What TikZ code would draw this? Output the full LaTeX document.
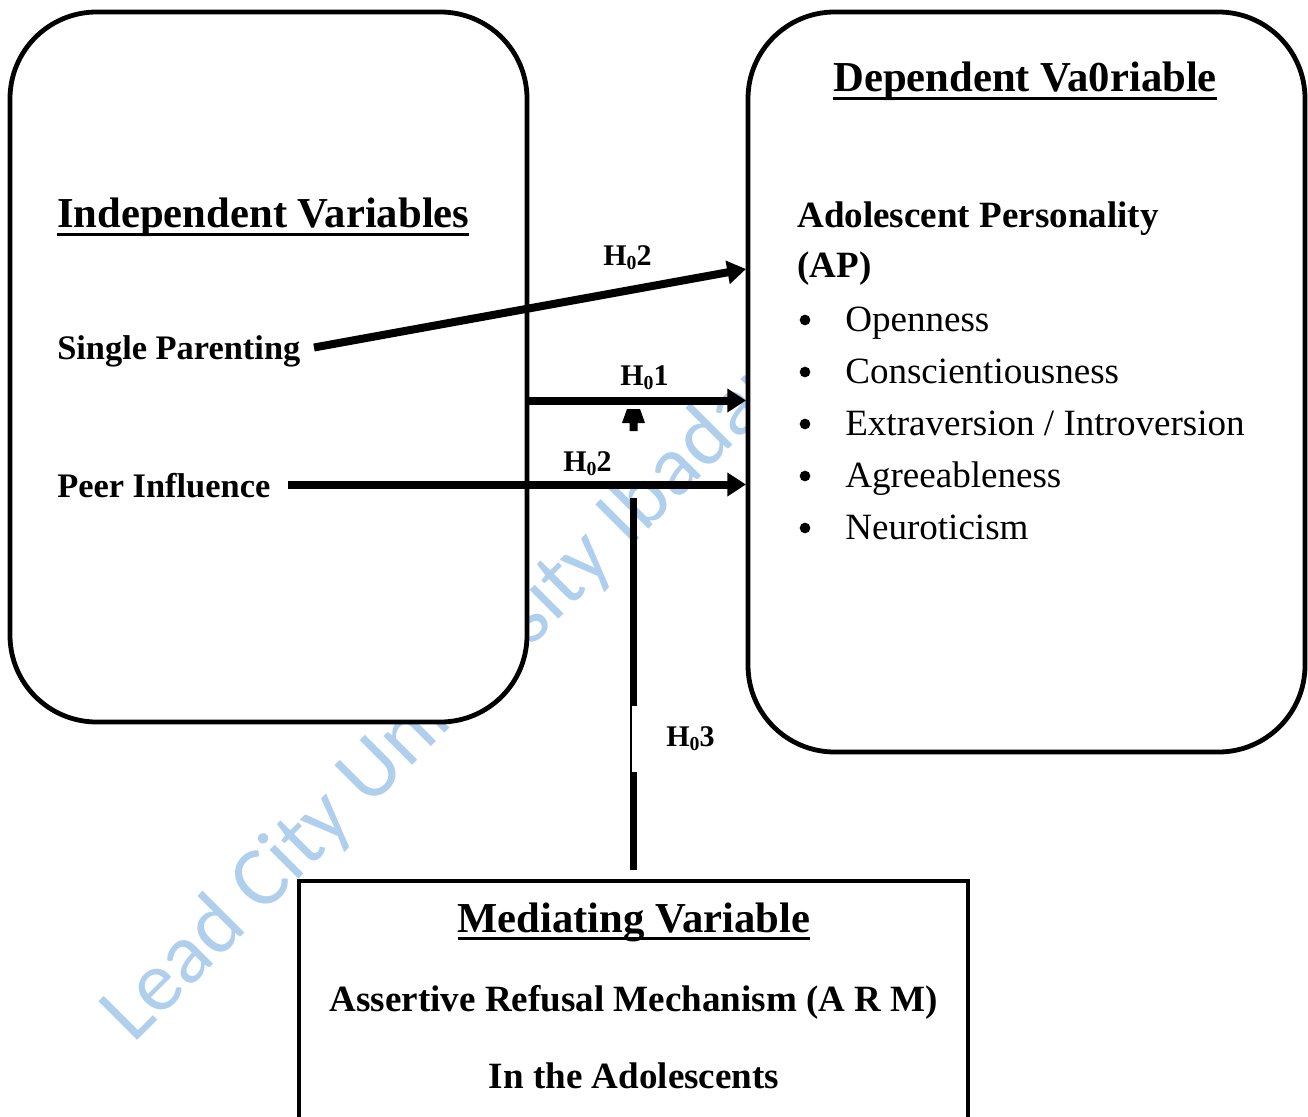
\documentclass[tikz,border=0pt]{standalone}
\usepackage{fontspec}
\usepackage{graphicx}
\setmainfont{Liberation Serif}
\newfontfamily\wmfont{Carlito}
\usetikzlibrary{arrows.meta}
\definecolor{wmblue}{RGB}{175,207,237}
\newcommand\myul[1]{\leavevmode\setbox0=\hbox{#1}\rlap{\smash{\rule[-6pt]{\wd0}{2.2pt}}}\box0}
\newcommand\hsub[1]{H\raisebox{-0.14em}{\scalebox{0.66}{0}}#1}
\tikzset{
 box/.style={draw, line width=3.6pt, fill=white, rounded corners=65pt, inner sep=0},
 sqbox/.style={draw, line width=3.6pt, fill=white, inner sep=0},
 head/.style={font=\bfseries\fontsize{32}{38}\selectfont, inner sep=0, anchor=base west},
 lab/.style={font=\bfseries\fontsize{25.8}{30}\selectfont, inner sep=0, anchor=base west},
 itm/.style={font=\fontsize{27.8}{33}\selectfont, inner sep=0, anchor=base west},
 bitm/.style={font=\bfseries\fontsize{27.8}{33}\selectfont, inner sep=0, anchor=base west},
 hlab/.style={font=\bfseries\fontsize{22.5}{27}\selectfont, inner sep=0, anchor=base west},
 arr/.style={line width=6pt, -{Triangle[length=14pt,width=17pt]}},
 vline/.style={line width=5.5pt},
 thinline/.style={line width=1.1pt},
 bul/.style={circle, fill=black, inner sep=0, minimum size=8pt},
 wm/.style={rotate=45, anchor=base west, text=wmblue, inner sep=0, font=\wmfont\fontsize{64}{70}\selectfont},
}
\begin{document}
\begin{tikzpicture}[x=0.75pt,y=-0.75pt]
\useasboundingbox (0,0) rectangle (1308,1116);
\clip (0,0) rectangle (1308,1116);
% watermark
\node[wm] (wmk) at (133,1045) {Lead City University Ibadan};
% boxes
\node[box, minimum width=387.75pt, minimum height=532.5pt] (indep) at (268.5,367) {};
\node[box, minimum width=417.75pt, minimum height=555pt] (dep) at (1026.5,382) {};
\node[sqbox, minimum width=501.75pt, minimum height=201.75pt] (med) at (633.5,1015.5) {};
% left texts
\node[head] (ihead) at (57,228) {\myul{Independent Variables}};
\node[lab] (sp) at (57,359) {Single Parenting};
\node[lab] (pi) at (57,497) {Peer Influence};
% right texts
\node[head] (dhead) at (833,92) {\myul{Dependent Va0riable}};
\node[bitm] (ap1) at (797,228) {Adolescent Personality};
\node[bitm] (ap2) at (797,277) {(AP)};
\node[itm] (i1) at (845,331) {Openness};
\node[itm] (i2) at (845,383) {Conscientiousness};
\node[itm] (i3) at (845,435) {Extraversion / Introversion};
\node[itm] (i4) at (845,487) {Agreeableness};
\node[itm] (i5) at (845,539) {Neuroticism};
\foreach \yy/\nm in {320/b1,372/b2,424/b3,476/b4,528/b5}
  \node[bul] (\nm) at (805,\yy) {};
% bottom texts
\node[head, anchor=base] (mhead) at (634,932) {\myul{Mediating Variable}};
\node[bitm, anchor=base] (m1) at (634,1011) {Assertive Refusal Mechanism (A R M)};
\node[bitm, anchor=base] (m2) at (634,1088) {In the Adolescents};
% hypothesis labels
\node[hlab] (h2a) at (603,265) {\hsub{2}};
\node[hlab] (h1) at (620,385) {\hsub{1}};
\node[hlab] (h2b) at (563,471) {\hsub{2}};
\node[hlab] (h3) at (666,746) {\hsub{3}};
% arrow end coordinates
\coordinate (t1) at (746,269);
\coordinate (t2) at (746,400.5);
\coordinate (t3) at (746,484.5);
\coordinate (s1) at (314,347.5);
\coordinate (s3) at (288,484.5);
\draw[arr] (s1) -- (t1);
\draw[arr] (indep.east |- t2) -- (t2);
\draw[arr] (s3) -- (t3);
% vertical mediating connector
\coordinate (v1) at (633.5,498);
\coordinate (v2) at (633.5,706);
\coordinate (v3) at (633.5,772);
\coordinate (v4) at (633.5,870);
\draw[vline] (v4) -- (v3);
\draw[thinline] (631,772) -- (631,706);
\draw[vline] (v2) -- (v1);
% small upward arrow
\fill (627,409) -- (640,409) -- (645,423) -- (637.5,423) -- (637.5,431) -- (629.5,431) -- (629.5,423) -- (622,423) -- cycle;
\end{tikzpicture}
\end{document}
